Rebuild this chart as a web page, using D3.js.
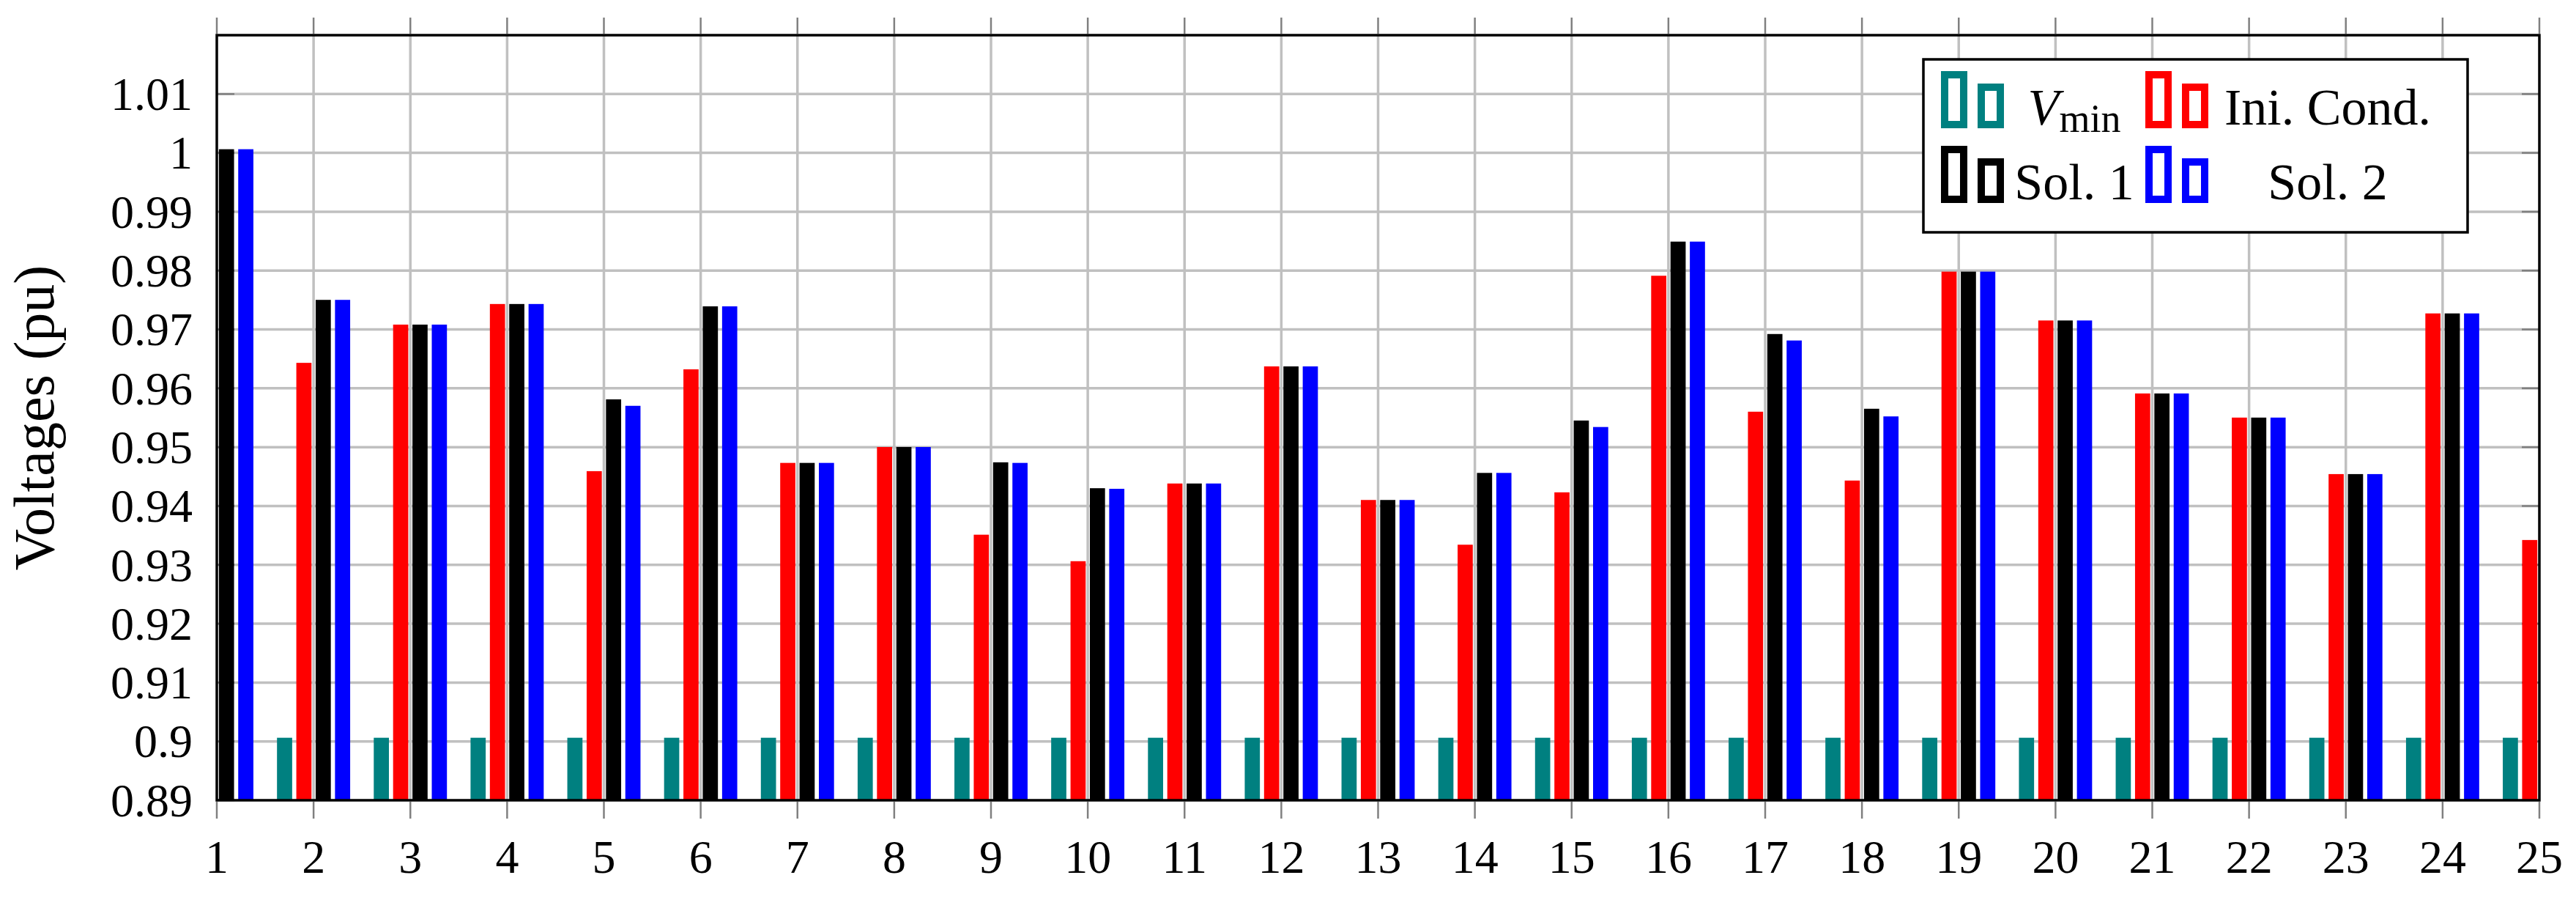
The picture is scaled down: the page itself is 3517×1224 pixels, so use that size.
<!DOCTYPE html>
<html>
<head>
<meta charset="utf-8">
<script src="https://d3js.org/d3.v7.min.js"></script>
<style>
  body { margin: 0; background: #fff; }
</style>
</head>
<body>
<div id="grafico"></div>
<script>
// bus numbers (x axis)
const buses = [1, 2, 3, 4, 5, 6, 7, 8, 9, 10, 11, 12, 13, 14, 15, 16, 17, 18, 19, 20, 21, 22, 23, 24, 25];

// voltages (pu); null = outside the axis, clipped
const vmin     = [null, 0.9, 0.9, 0.9, 0.9, 0.9, 0.9, 0.9, 0.9, 0.9, 0.9, 0.9, 0.9, 0.9, 0.9, 0.9, 0.9, 0.9, 0.9, 0.9, 0.9, 0.9, 0.9, 0.9, 0.9];
const iniCond  = [null, 0.9637, 0.9702, 0.9737, 0.9453, 0.9626, 0.9467, 0.9494, 0.9345, 0.9300, 0.9432, 0.9631, 0.9404, 0.9328, 0.9417, 0.9785, 0.9554, 0.9437, 0.9792, 0.9709, 0.9585, 0.9544, 0.9448, 0.9721, 0.9336];
const sol1     = [1.0, 0.9744, 0.9702, 0.9737, 0.9575, 0.9733, 0.9467, 0.9494, 0.9468, 0.9424, 0.9432, 0.9631, 0.9404, 0.9450, 0.9539, 0.9843, 0.9686, 0.9559, 0.9792, 0.9709, 0.9585, 0.9544, 0.9448, 0.9721, null];
const sol2     = [1.0, 0.9744, 0.9702, 0.9737, 0.9564, 0.9733, 0.9467, 0.9494, 0.9467, 0.9423, 0.9432, 0.9631, 0.9404, 0.9450, 0.9528, 0.9843, 0.9675, 0.9546, 0.9792, 0.9709, 0.9585, 0.9544, 0.9448, 0.9721, null];

const seriesNames  = ["Vmin", "Ini. Cond.", "Sol. 1", "Sol. 2"];
const seriesColors = ["#008080", "#ff0000", "#000000", "#0000ff"];
const seriesValues = [vmin, iniCond, sol1, sol2];

// y ticks and their labels
const yTicks      = [0.89, 0.90, 0.91, 0.92, 0.93, 0.94, 0.95, 0.96, 0.97, 0.98, 0.99, 1.00, 1.01];
const yTickLabels = ["0.89", "0.9", "0.91", "0.92", "0.93", "0.94", "0.95", "0.96", "0.97", "0.98", "0.99", "1", "1.01"];

const ancho = 3517, alto = 1224;
const izq = 296, der = 3467, arriba = 48, abajo = 1092;
const gris = "#c0c0c0", grisTick = "#808080";
const fuente = "'Liberation Serif', 'DejaVu Serif', serif";

const svg = d3.select("#grafico").append("svg")
    .attr("width", ancho)
    .attr("height", alto)
    .attr("font-family", fuente)
    .style("background", "#fff");

const x = d3.scaleLinear().domain([1, 25]).range([izq, der]);
const y = d3.scaleLinear().domain([0.89, 1.02]).range([abajo, arriba]);

// position of each series inside a group
const xSub = d3.scaleBand()
    .domain(seriesNames)
    .range([-52.8, 52.8])
    .paddingInner(0.216)
    .paddingOuter(0.108);

svg.append("clipPath").attr("id", "area")
  .append("rect")
    .attr("x", izq).attr("y", arriba)
    .attr("width", der - izq).attr("height", abajo - arriba);

// grid
const grid = svg.append("g");
grid.selectAll("line.gx")
  .data(buses.slice(1, -1))
  .join("line")
    .attr("x1", d => x(d)).attr("x2", d => x(d))
    .attr("y1", arriba).attr("y2", abajo)
    .attr("stroke", gris).attr("stroke-width", 3.5);
grid.selectAll("line.gy")
  .data(yTicks.slice(1))
  .join("line")
    .attr("x1", izq).attr("x2", der)
    .attr("y1", d => y(d)).attr("y2", d => y(d))
    .attr("stroke", gris).attr("stroke-width", 3.5);

// inner y ticks (left and right)
const yt = svg.append("g");
yTicks.forEach(d => {
    yt.append("line").attr("x1", izq).attr("x2", izq + 24)
      .attr("y1", y(d)).attr("y2", y(d))
      .attr("stroke", grisTick).attr("stroke-width", 2.5);
    yt.append("line").attr("x1", der - 24).attr("x2", der)
      .attr("y1", y(d)).attr("y2", y(d))
      .attr("stroke", grisTick).attr("stroke-width", 2.5);
});

// bars
const sobresale = 5; // bar outline pokes a little above the value
const barras = svg.append("g").attr("clip-path", "url(#area)");
seriesNames.forEach((nombre, i) => {
    const datos = buses.map((b, j) => ({ bus: b, v: seriesValues[i][j] }))
        .filter(d => d.v !== null);
    barras.append("g").selectAll("rect")
      .data(datos)
      .join("rect")
        .attr("x", d => x(d.bus) + xSub(nombre))
        .attr("width", xSub.bandwidth())
        .attr("y", d => y(d.v) - sobresale)
        .attr("height", d => abajo - y(d.v) + sobresale)
        .attr("fill", seriesColors[i]);
});

// frame
svg.append("rect")
    .attr("x", izq).attr("y", arriba)
    .attr("width", der - izq).attr("height", abajo - arriba)
    .attr("fill", "none").attr("stroke", "#000").attr("stroke-width", 3.5);

// outer x ticks, top and bottom
const xt = svg.append("g");
buses.forEach(b => {
    xt.append("line").attr("x1", x(b)).attr("x2", x(b))
      .attr("y1", arriba - 24).attr("y2", arriba - 2)
      .attr("stroke", grisTick).attr("stroke-width", 2.5);
    xt.append("line").attr("x1", x(b)).attr("x2", x(b))
      .attr("y1", abajo + 2).attr("y2", abajo + 25)
      .attr("stroke", grisTick).attr("stroke-width", 2.5);
});

// tick labels
svg.append("g").selectAll("text")
  .data(buses)
  .join("text")
    .attr("x", d => x(d))
    .attr("y", 1191)
    .attr("text-anchor", "middle")
    .attr("font-family", fuente)
    .style("font-size", "64px")
    .text(d => d);

svg.append("g").selectAll("text")
  .data(yTicks)
  .join("text")
    .attr("x", 263)
    .attr("y", d => y(d))
    .attr("dy", "0.34em")
    .attr("text-anchor", "end")
    .attr("font-family", fuente)
    .style("font-size", "64px")
    .text((d, i) => yTickLabels[i]);

// y axis title
svg.append("text")
    .attr("transform", "translate(73," + (arriba + abajo) / 2 + ") rotate(-90)")
    .attr("text-anchor", "middle")
    .attr("font-family", fuente)
    .style("font-size", "78px")
    .text("Voltages (pu)");

// legend
const leyenda = svg.append("g");
leyenda.append("rect")
    .attr("x", 2626).attr("y", 81)
    .attr("width", 743).attr("height", 236)
    .attr("fill", "#fff").attr("stroke", "#000").attr("stroke-width", 3.5);

const colIcono = [2655, 2934];
const colTexto = [2832, 3178];
const filaBase = [170, 272];

seriesNames.forEach((nombre, i) => {
    const c = i % 2, f = Math.floor(i / 2);
    const base = filaBase[f];
    const ix = colIcono[c];
    // two small outlined bars
    leyenda.append("rect")
        .attr("x", ix).attr("y", base - 68)
        .attr("width", 26).attr("height", 68)
        .attr("fill", "#fff").attr("stroke", seriesColors[i]).attr("stroke-width", 10);
    leyenda.append("rect")
        .attr("x", ix + 50).attr("y", base - 51)
        .attr("width", 26).attr("height", 51)
        .attr("fill", "#fff").attr("stroke", seriesColors[i]).attr("stroke-width", 10);

    const t = leyenda.append("text")
        .attr("x", colTexto[c])
        .attr("y", base)
        .attr("text-anchor", "middle")
        .attr("font-family", fuente)
        .style("font-size", "70px");
    if (nombre === "Vmin") {
        t.append("tspan").style("font-style", "italic").text("V");
        t.append("tspan").attr("dy", 10).style("font-size", "54px").text("min");
    } else {
        t.text(nombre);
    }
});
</script>
</body>
</html>
